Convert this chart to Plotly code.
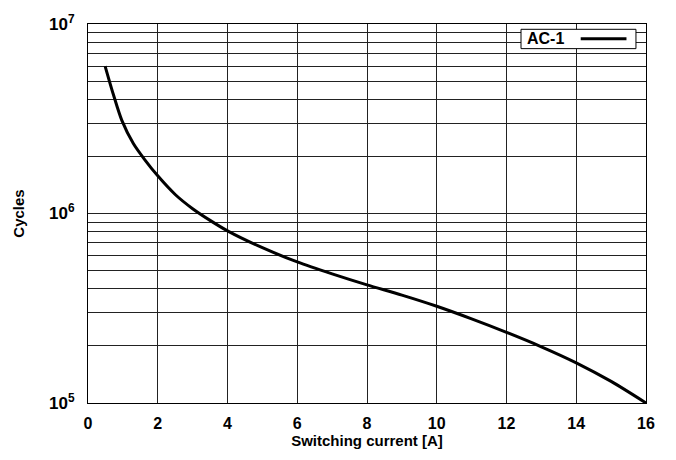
import plotly.graph_objects as go

# Data
current_a = [0.49, 0.73, 0.97, 1.3, 1.63, 2.0, 2.5, 3.0, 3.5, 4.0, 5.0, 6.0,
             7.0, 8.0, 9.0, 10.0, 11.0, 12.0, 13.0, 14.0, 15.0, 16.0]
cycles = [6.0e6, 4.23e6, 3.1e6, 2.34e6, 1.92e6, 1.58e6, 1.26e6, 1.06e6, 9.2e5, 8.1e5,
          6.6e5, 5.55e5, 4.8e5, 4.2e5, 3.71e5, 3.24e5, 2.78e5, 2.36e5, 1.98e5,
          1.63e5, 1.30e5, 1.0e5]
series_name = "AC-1"

x_ticks = list(range(0, 17, 2))
y_grid = [m * 10 ** e for e in (5, 6) for m in range(1, 10)] + [1e7]
y_labels = {1e5: "10<sup>5</sup>", 1e6: "10<sup>6</sup>", 1e7: "10<sup>7</sup>"}
y_text = [y_labels.get(v, "") for v in y_grid]

FONT = "Liberation Sans, Arial, sans-serif"

fig = go.Figure()
fig.add_trace(go.Scatter(
    x=current_a, y=cycles, mode="lines", name=series_name,
    line=dict(color="black", width=3, shape="spline", smoothing=0.8),
    showlegend=False,
))

fig.update_layout(
    width=676, height=460,
    margin=dict(l=88, r=30, t=14, b=57),
    paper_bgcolor="white", plot_bgcolor="white",
    font=dict(family=FONT, size=15, color="black", weight="bold"),
    xaxis=dict(
        range=[0, 16], tickvals=x_ticks, ticks="", showgrid=True,
        gridcolor="#222222", gridwidth=1, zeroline=False,
        showline=True, linecolor="black", linewidth=1, mirror=True,
        ticklabelstandoff=6,
        title=dict(text="Switching current [A]", font=dict(size=15, weight="bold"), standoff=4),
        tickfont=dict(size=16, weight="bold"),
    ),
    yaxis=dict(
        type="log", range=[5, 7], tickvals=y_grid, ticktext=y_text, ticks="",
        showgrid=True, gridcolor="#222222", gridwidth=1, zeroline=False,
        showline=True, linecolor="black", linewidth=1, mirror=True,
        ticklabelstandoff=9,
        title=dict(text="Cycles", font=dict(size=15, weight="bold"), standoff=20),
        tickfont=dict(size=17, weight="bold"),
    ),
)

# Legend box (text on the left, line sample on the right)
fig.add_shape(type="rect", xref="paper", yref="paper",
              x0=0.776, x1=0.982, y0=0.935, y1=0.986,
              line=dict(color="black", width=1), fillcolor="white", layer="above")
fig.add_shape(type="line", xref="paper", yref="paper",
              x0=0.883, x1=0.965, y0=0.961, y1=0.961,
              line=dict(color="black", width=3), layer="above")
fig.add_annotation(text=series_name, xref="paper", yref="paper",
                   x=0.784, y=0.961, xanchor="left", yanchor="middle",
                   showarrow=False, font=dict(size=16, weight="bold", family=FONT))

fig.write_html("out.html")
